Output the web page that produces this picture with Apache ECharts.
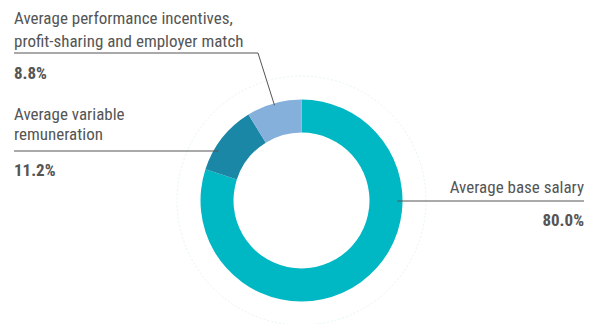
<!DOCTYPE html>
<html>
<head>
<meta charset="utf-8">
<script src="https://cdn.jsdelivr.net/npm/echarts@6/dist/echarts.min.js"></script>
<style>
  html, body { margin: 0; padding: 0; background: #fff; }
  #chart { width: 596px; height: 324px; }
</style>
</head>
<body>
<div id="chart"></div>
<script>
// Pay mix: shares of total remuneration
const categories = [
  'Average base salary',
  'Average variable\nremuneration',
  'Average performance incentives,\nprofit-sharing and employer match'
];
const values = [80.0, 11.2, 8.8];
const valueLabels = ['80.0%', '11.2%', '8.8%'];
const sliceColors = ['#00b7c4', '#1a87a7', '#85b0dc'];

// Donut geometry
const CX = 301.5, CY = 200.5, R_IN = 68, R_OUT = 101;

// Label placement: text block top edge, alignment, and the rule under the name
const labelPlacement = [
  { x: 584, y: 175, align: 'right', nameLH: 23, valueLH: 43, ruleY: 201, ruleEnd: 584 },
  { x: 14, y: 104, align: 'left', nameLH: 20, valueLH: 52, ruleY: 151, ruleEnd: 14 },
  { x: 14, y: 6.5, align: 'left', nameLH: 23, valueLH: 41, ruleY: 53, ruleEnd: 14, elbowX: 258 }
];

const FONT = "'Roboto Condensed', 'Liberation Sans Narrow', 'DejaVu Sans Condensed', 'Noto Sans', sans-serif";

// Leader lines: horizontal rules reaching into the ring, or an elbow to the slice middle
function leaderPoints() {
  const total = values.reduce((a, b) => a + b, 0);
  let acc = 0;
  return labelPlacement.map((lp, i) => {
    const midFrac = (acc + values[i] / 2) / total;
    acc += values[i];
    const side = lp.align === 'right' ? 1 : -1;
    if (lp.elbowX != null) {
      const ang = midFrac * 2 * Math.PI;            // clockwise from 12 o'clock
      const r = R_OUT - 2;
      const sx = CX + r * Math.sin(ang), sy = CY - r * Math.cos(ang);
      return [[sx, sy], [lp.elbowX, lp.ruleY], [lp.ruleEnd, lp.ruleY]];
    }
    const dy = lp.ruleY - CY;
    const edgeX = CX + side * (Math.sqrt(R_OUT * R_OUT - dy * dy) - 5);
    return [[edgeX, lp.ruleY], [lp.ruleEnd, lp.ruleY]];
  });
}

const chart = echarts.init(document.getElementById('chart'), null, { renderer: 'svg' });

chart.setOption({
  animation: false,
  backgroundColor: '#ffffff',
  graphic: [
    {
      // faint dotted guide ring around the donut
      type: 'circle',
      silent: true,
      z: 0,
      shape: { cx: CX, cy: CY, r: 124.5 },
      style: { fill: 'none', stroke: '#e6f5f6', lineWidth: 1, lineDash: [2, 2] }
    }
  ].concat(leaderPoints().map(pts => ({
    type: 'polyline',
    silent: true,
    z: 10,
    shape: { points: pts },
    style: { fill: 'none', stroke: '#555555', lineWidth: 1 }
  }))),
  series: [
    {
      type: 'pie',
      z: 2,
      center: [CX, CY],
      radius: [R_IN, R_OUT],
      startAngle: 90,
      clockwise: true,
      avoidLabelOverlap: false,
      data: categories.map((name, i) => ({
        name: name,
        value: values[i],
        itemStyle: { color: sliceColors[i] }
      })),
      label: {
        show: true,
        position: 'outside',
        fontFamily: FONT,
        formatter: function (p) {
          const lines = p.name.split('\n').map(s => '{n' + p.dataIndex + '|' + s + '}');
          return lines.join('\n') + '\n{v' + p.dataIndex + '|' + valueLabels[p.dataIndex] + '}';
        },
        rich: (function () {
          const r = {};
          labelPlacement.forEach((lp, i) => {
            r['n' + i] = { fontFamily: FONT, fontSize: 17, color: '#555555', lineHeight: lp.nameLH, align: lp.align };
            r['v' + i] = { fontFamily: FONT, fontSize: 17, fontWeight: 'bold', color: '#555555', lineHeight: lp.valueLH, align: lp.align };
          });
          return r;
        })()
      },
      labelLine: { show: false },
      labelLayout: function (params) {
        const lp = labelPlacement[params.dataIndex];
        return { x: lp.x, y: lp.y, align: lp.align, verticalAlign: 'top' };
      }
    }
  ]
});
</script>
</body>
</html>
